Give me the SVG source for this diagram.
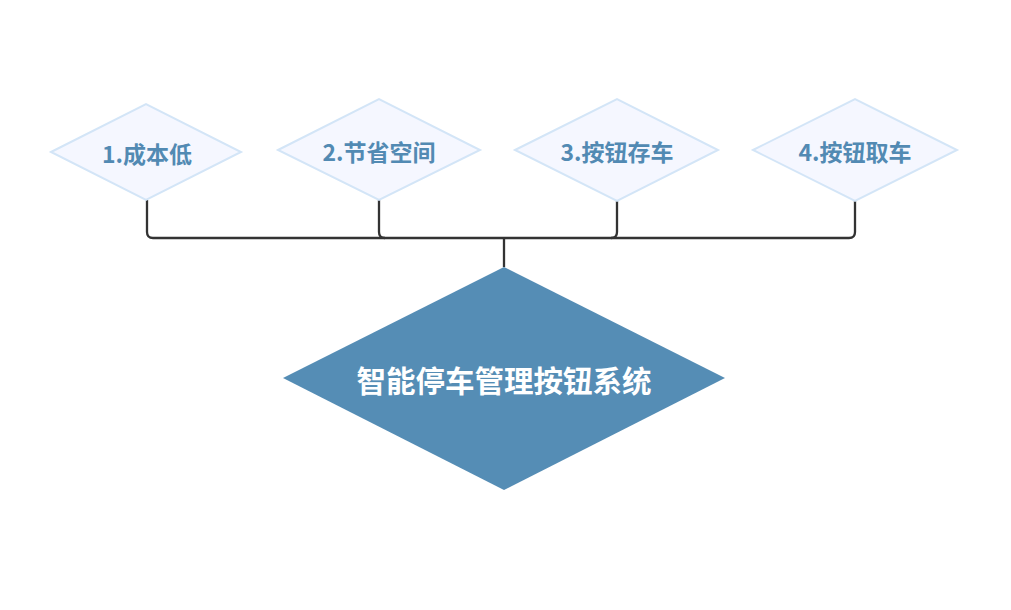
<svg xmlns="http://www.w3.org/2000/svg" width="1011" height="610" viewBox="0 0 1011 610">
<style>
.sub{fill:#f5f7ff;stroke:#d3e5f7;stroke-width:2}
.subt{font-family:"Noto Sans CJK SC","Noto Sans",sans-serif;font-weight:bold;font-size:23px;fill:#528ab3;text-anchor:middle;dominant-baseline:central}
.main{fill:#558db5}
.maint{font-family:"Noto Sans CJK SC","Noto Sans",sans-serif;font-weight:bold;font-size:29.5px;fill:#ffffff;text-anchor:middle;dominant-baseline:central}
.conn{fill:none;stroke:#333333;stroke-width:2.3}
</style>
<rect width="1011" height="610" fill="#ffffff"/>
<g id="connectors">
<path class="conn" d="M147 200 V232 Q147 238 153 238 H849 Q855 238 855 232 V201"/>
<path class="conn" d="M379 200 V232 Q379 238 385 238"/>
<path class="conn" d="M617 201 V232 Q617 238 611 238"/>
<path class="conn" d="M504 238 V267"/>
</g>
<g id="n1">
<polygon class="sub" points="51,152 146,104 241,152 146,200"/>
<text class="subt" x="147" y="153">1.成本低</text>
</g>
<g id="n2">
<polygon class="sub" points="278,150 379,99 480,150 379,200"/>
<text class="subt" x="379" y="151">2.节省空间</text>
</g>
<g id="n3">
<polygon class="sub" points="515,150 617,99 718,150 617,201"/>
<text class="subt" x="617" y="151">3.按钮存车</text>
</g>
<g id="n4">
<polygon class="sub" points="753,150 855,99 957,150 855,201"/>
<text class="subt" x="855" y="151">4.按钮取车</text>
</g>
<g id="main">
<polygon class="main" points="283,378 504,267 725,378 504,490"/>
<text class="maint" x="504" y="379">智能停车管理按钮系统</text>
</g>
</svg>
